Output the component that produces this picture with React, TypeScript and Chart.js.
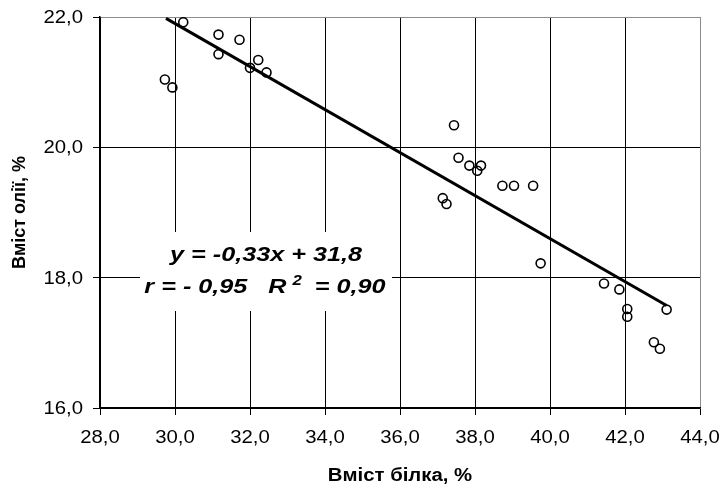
import React, { useEffect, useRef } from "react";
import { Chart, registerables } from "chart.js";

Chart.register(...registerables);

// Protein content (%) and oil content (%) for each sample
const protein = [
  29.73, 29.93, 30.22, 31.16, 31.16, 31.72, 32.0, 32.22, 32.44,
  37.44, 37.56, 37.85, 38.06, 38.16, 37.14, 37.24, 38.73, 39.04, 39.55,
  39.75, 41.44, 41.85, 42.06, 42.06, 42.77, 42.93, 43.11,
];
const oil = [
  21.04, 20.92, 21.92, 21.73, 21.43, 21.65, 21.22, 21.34, 21.15,
  20.34, 19.84, 19.72, 19.64, 19.72, 19.22, 19.13, 19.41, 19.41, 19.41,
  18.22, 17.91, 17.82, 17.52, 17.40, 17.01, 16.91, 17.51,
];

// Linear fit y = slope * x + intercept, drawn across the data range
const slope = -0.33;
const intercept = 31.8;
const fitRange = [29.76, 43.11];

const xTicks = [28, 30, 32, 34, 36, 38, 40, 42, 44];
const yTicks = [16, 18, 20, 22];

const xTitle = "Вміст білка, %";
const yTitle = "Вміст олії, %";
const eqLine = "y = -0,33x + 31,8";
const rPart = "r = - 0,95   R";
const r2Sup = "2";
const r2Value = " = 0,90";

const FONT = "'Liberation Sans', Arial, sans-serif";
const SX = 1.13; // horizontal widening of axis lettering
const SX_EQ = 1.2; // horizontal widening of the equation lettering
const fmt = (v: number) => v.toFixed(1).replace(".", ",");

function textAt(
  ctx: CanvasRenderingContext2D,
  text: string,
  x: number,
  y: number,
  align: CanvasTextAlign,
  sx: number = SX
) {
  ctx.save();
  ctx.translate(x, y);
  ctx.scale(sx, 1);
  ctx.textAlign = align;
  ctx.fillText(text, 0, 0);
  ctx.restore();
}

// white label box behind the equation, covering the grid
const labelBox = { left: 140, top: 232, right: 392, bottom: 311 };

const textPlugin = {
  id: "chartTexts",
  beforeDatasetsDraw(chart: any) {
    const ctx = chart.ctx as CanvasRenderingContext2D;
    ctx.save();
    ctx.fillStyle = "#fff";
    ctx.fillRect(labelBox.left, labelBox.top, labelBox.right - labelBox.left, labelBox.bottom - labelBox.top);
    ctx.restore();
  },
  afterDraw(chart: any) {
    const ctx = chart.ctx as CanvasRenderingContext2D;
    const area = chart.chartArea;
    const xs = chart.scales.x;
    const ys = chart.scales.y;
    ctx.save();
    ctx.fillStyle = "#000";
    ctx.textBaseline = "middle";

    // tick labels
    ctx.font = `18px ${FONT}`;
    xTicks.forEach((v) => textAt(ctx, fmt(v), xs.getPixelForValue(v), 438, "center"));
    yTicks.forEach((v) => textAt(ctx, fmt(v), 83, ys.getPixelForValue(v) + 1, "right"));

    // axis titles
    ctx.font = `bold 18px ${FONT}`;
    textAt(ctx, xTitle, (area.left + area.right) / 2, 476, "center");
    ctx.save();
    ctx.translate(20, (area.top + area.bottom) / 2);
    ctx.rotate(-Math.PI / 2);
    ctx.textAlign = "center";
    ctx.fillText(yTitle, 0, 0);
    ctx.restore();

    // regression equation and correlation
    ctx.font = `italic bold 21px ${FONT}`;
    textAt(ctx, eqLine, 266, 255, "center", SX_EQ);

    const w1 = ctx.measureText(rPart).width * SX_EQ;
    ctx.font = `italic bold 14px ${FONT}`;
    const wSup = ctx.measureText(r2Sup).width * SX_EQ;
    ctx.font = `italic bold 21px ${FONT}`;
    const w3 = ctx.measureText(r2Value).width * SX_EQ;
    const gap = 6;
    const total = w1 + gap + wSup + gap + w3;
    const x0 = 265 - total / 2;
    textAt(ctx, rPart, x0, 287, "left", SX_EQ);
    ctx.font = `italic bold 14px ${FONT}`;
    textAt(ctx, r2Sup, x0 + w1 + gap, 281, "left", SX_EQ);
    ctx.font = `italic bold 21px ${FONT}`;
    textAt(ctx, r2Value, x0 + w1 + gap + wSup + gap, 287, "left", SX_EQ);
    ctx.restore();
  },
};

export default function App() {
  const ref = useRef<HTMLCanvasElement>(null);

  useEffect(() => {
    if (!ref.current) return;
    const points = protein.map((x, i) => ({ x, y: oil[i] }));
    const fit = fitRange.map((x) => ({ x, y: slope * x + intercept }));

    const chart = new Chart(ref.current, {
      type: "scatter",
      data: {
        datasets: [
          {
            data: points,
            pointRadius: 4.5,
            pointBorderWidth: 1.6,
            pointBorderColor: "#000",
            pointBackgroundColor: "rgba(0,0,0,0)",
            order: 2,
          },
          {
            data: fit,
            showLine: true,
            borderColor: "#000",
            borderWidth: 3,
            pointRadius: 0,
            order: 1,
          },
        ],
      },
      options: {
        responsive: false,
        maintainAspectRatio: false,
        animation: false,
        events: [],
        layout: { padding: { left: 0, right: 20, top: 17, bottom: 0 } },
        plugins: { legend: { display: false }, tooltip: { enabled: false } },
        scales: {
          x: {
            type: "linear",
            min: 28,
            max: 44,
            afterFit: (s: any) => {
              s.height = 82;
            },
            afterBuildTicks: (s: any) => {
              s.ticks = xTicks.map((v) => ({ value: v }));
            },
            ticks: { display: false },
            grid: {
              color: (c: any) => (c.tick && c.tick.value === 44 ? "#8c8c8c" : "#000"),
              tickColor: "#000",
              tickLength: 7,
              lineWidth: 1,
            },
            border: { color: "#000", width: 1.5 },
          },
          y: {
            type: "linear",
            min: 16,
            max: 22,
            afterFit: (s: any) => {
              s.width = 100;
            },
            afterBuildTicks: (s: any) => {
              s.ticks = yTicks.map((v) => ({ value: v }));
            },
            ticks: { display: false },
            grid: {
              color: (c: any) => (c.tick && c.tick.value === 22 ? "#8c8c8c" : "#000"),
              tickColor: "#000",
              tickLength: 7,
              lineWidth: 1,
            },
            border: { color: "#000", width: 1.5 },
          },
        },
      },
      plugins: [textPlugin],
    });
    return () => chart.destroy();
  }, []);

  return (
    <div style={{ position: "absolute", left: 0, top: 0, width: 720, height: 490, background: "#fff" }}>
      <canvas ref={ref} width={720} height={490} />
    </div>
  );
}
